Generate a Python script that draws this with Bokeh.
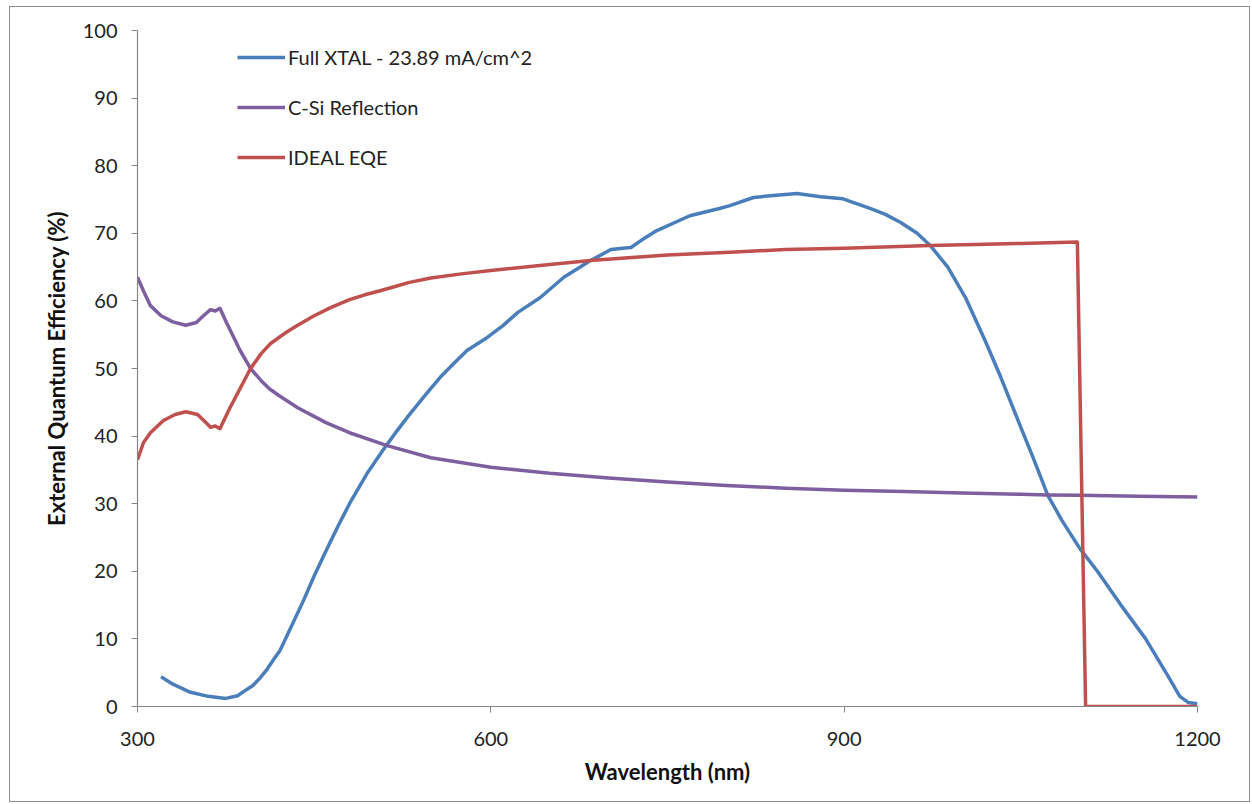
from bokeh.plotting import figure
from bokeh.embed import file_html
from bokeh.resources import INLINE
from bokeh.models import FixedTicker, Range1d, Legend, LegendItem

# ---- data ----
xtal_nm = [320, 330, 345, 360, 375, 385, 390, 398, 404, 410, 415, 421, 430, 441, 450, 460, 470,
           480, 495, 510, 520, 530, 545, 557, 570, 580, 588, 597, 610, 623, 642, 662, 685, 702,
           712, 719, 728, 741, 769, 795, 803, 823, 840, 860, 880, 899, 922, 935, 948, 962, 973,
           988, 1003, 1020, 1033, 1050, 1060, 1073, 1085, 1100, 1115, 1135, 1156, 1175, 1185,
           1192, 1200]
xtal_eqe = [4.4, 3.3, 2.1, 1.5, 1.2, 1.6, 2.2, 3.1, 4.2, 5.5, 6.8, 8.3, 11.6, 15.7, 19.3, 23.0, 26.6,
            30.0, 34.5, 38.3, 40.7, 43.0, 46.2, 48.7, 51.0, 52.7, 53.6, 54.6, 56.3, 58.3, 60.5, 63.5, 66.0, 67.6,
            67.8, 67.9, 69.0, 70.4, 72.6, 73.7, 74.1, 75.3, 75.6, 75.9, 75.4, 75.1, 73.7, 72.8, 71.6, 70.0, 68.2,
            65.0, 60.5, 54.0, 48.7, 41.3, 37.0, 31.2, 27.5, 23.4, 20.0, 15.0, 10.0, 4.5, 1.5,
            0.6, 0.4]

refl_nm = [300, 305, 311, 320, 330, 341, 350, 356, 362, 366, 370, 375, 380, 387, 392, 396, 405,
           412, 420, 436, 460, 480, 512, 549, 600, 650, 700, 750, 800, 850, 900, 950, 1000, 1050,
           1073, 1100, 1150, 1200]
refl_val = [63.5, 61.5, 59.3, 57.8, 56.9, 56.4, 56.8, 57.8, 58.7, 58.5, 58.9, 57.0, 55.2, 52.7, 51.2, 50.0, 48.2,
            47.0, 46.0, 44.2, 42.0, 40.5, 38.6, 36.8, 35.4, 34.5, 33.8, 33.2, 32.7, 32.3, 32.0, 31.8, 31.6, 31.4,
            31.3, 31.25, 31.1, 31.0]

ideal_nm = [300, 305, 311, 322, 332, 341, 351, 358, 362, 366, 370, 378, 387, 396, 405, 413,
            425, 436, 450, 464, 480, 493, 506, 518, 530, 549, 575, 600, 650, 687, 750, 803, 850, 900,
            973, 1050, 1098, 1105, 1200]
ideal_eqe = [36.5, 39.0, 40.5, 42.3, 43.2, 43.6, 43.2, 42.0, 41.3, 41.5, 41.1, 44.0, 47.0, 50.0, 52.2, 53.7,
             55.2, 56.4, 57.8, 59.0, 60.2, 60.9, 61.5, 62.1, 62.7, 63.4, 64.0, 64.5, 65.4, 66.0, 66.8, 67.2, 67.6, 67.8,
             68.2, 68.5, 68.7, 0.0, 0.0]

series_names = ["Full XTAL - 23.89 mA/cm^2", "C-Si Reflection", "IDEAL EQE"]
x_ticks = [300, 600, 900, 1200]
y_ticks = [0, 10, 20, 30, 40, 50, 60, 70, 80, 90, 100]

colors = ["#4a7ebb", "#7d5fa0", "#c0504d"]
FONT = "Lato"

p = figure(width=1241, height=796, output_backend="svg", toolbar_location=None,
           x_range=Range1d(300, 1200), y_range=Range1d(0, 100),
           min_border_left=127, min_border_right=54, min_border_top=23, min_border_bottom=97,
           background_fill_color="white", border_fill_color="white",
           styles={"margin-left": "9px", "margin-top": "6px", "border": "1px solid #8c8c8c"})
p.outline_line_color = None
p.xgrid.visible = False
p.ygrid.visible = False

r1 = p.line(xtal_nm, xtal_eqe, line_color=colors[0], line_width=3.5, line_join="round")
r2 = p.line(refl_nm, refl_val, line_color=colors[1], line_width=3.5, line_join="round")
r3 = p.line(ideal_nm, ideal_eqe, line_color=colors[2], line_width=3.5, line_join="round")

for ax in (p.xaxis[0], p.yaxis[0]):
    ax.axis_line_color = "#868686"
    ax.axis_line_width = 1.2
    ax.major_tick_line_color = "#868686"
    ax.major_tick_in = 0
    ax.major_tick_out = 6
    ax.minor_tick_line_color = None
    ax.major_label_text_font = FONT
    ax.major_label_text_font_size = "20px"
    ax.major_label_text_color = "#222222"
    ax.axis_label_text_font = FONT
    ax.axis_label_text_font_size = "22px"
    ax.axis_label_text_font_style = "bold"
    ax.axis_label_text_color = "#111111"

p.xaxis.ticker = FixedTicker(ticks=x_ticks)
p.yaxis.ticker = FixedTicker(ticks=y_ticks)
p.xaxis.axis_label = "Wavelength (nm)"
p.yaxis.axis_label = "External Quantum Efficiency (%)"
p.yaxis.major_label_standoff = 14
p.xaxis.major_label_standoff = 19
p.yaxis.axis_label_standoff = 10
p.xaxis.axis_label_standoff = 9

legend = Legend(items=[LegendItem(label=series_names[0], renderers=[r1]),
                       LegendItem(label=series_names[1], renderers=[r2]),
                       LegendItem(label=series_names[2], renderers=[r3])],
                location=(100, 537), padding=0, margin=0, spacing=26,
                glyph_width=48, glyph_height=24, label_standoff=3,
                label_text_font=FONT, label_text_font_size="20px", label_text_color="#222222",
                border_line_color=None, background_fill_alpha=0)
p.add_layout(legend)

open("out.html", "w").write(file_html(p, INLINE))
